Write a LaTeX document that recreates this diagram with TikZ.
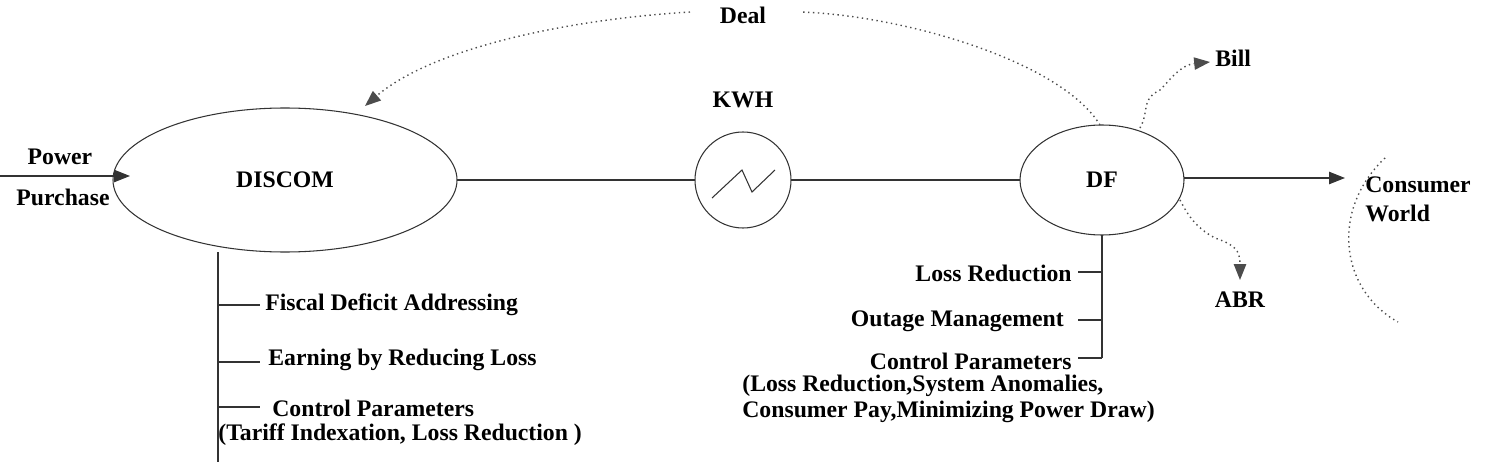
\documentclass[tikz,border=0pt]{standalone}
\usepackage{fontspec}
\setmainfont{Liberation Serif}
\usetikzlibrary{arrows.meta}
\begin{document}
\begin{tikzpicture}[x=0.02cm,y=-0.02cm,
  lbl/.style={font=\bfseries\fontsize{13.5}{16}\selectfont,inner sep=0pt},
  ln/.style={draw=black!80,line width=0.6pt},
  dot/.style={draw=black!70,dotted,line width=0.8pt},
  tip/.style={-{Triangle[length=9pt,width=7pt]}}]
\useasboundingbox (0,0) rectangle (1488,466);
\draw[ln] (285,180) ellipse [x radius=172,y radius=72];
\node[lbl] (discom) at (285,180) {DISCOM};
\draw[ln] (743,180) circle [radius=48];
\draw[ln] (712,198)--(742,170)--(752,192)--(775,170);
\node[lbl] (kwh) at (743,100) {KWH};
\draw[ln] (1102,180) ellipse [x radius=82,y radius=55];
\node[lbl] (df) at (1102,180) {DF};
\coordinate (d1) at (457,180); \coordinate (m1) at (695,180);
\coordinate (m2) at (791,180); \coordinate (f1) at (1020,180);
\draw[ln] (d1)--(m1); \draw[ln] (m2)--(f1);
\node[lbl] (pw) at (60,157) {Power};
\node[lbl] (pp) at (63,197) {Purchase};
\coordinate (s0) at (0,176); \coordinate (s1) at (130,176);
\draw[ln,tip] (s0)--(s1);
\coordinate (f2) at (1184,178); \coordinate (c1) at (1345,178);
\draw[ln,tip] (f2)--(c1);
\node[lbl,anchor=west] (cons) at (1365,185) {Consumer};
\node[lbl,anchor=west] (world) at (1365,213) {World};
\draw[dot] (1385,158) .. controls (1330,210) and (1340,290) .. (1398,322);
\node[lbl] (deal) at (743,15) {Deal};
\coordinate (dt) at (1100,125); \coordinate (dl) at (365,106);
\draw[dot] (dt) .. controls (1060,60) and (900,15) .. (800,12);
\draw[dot,tip] (690,12) .. controls (560,20) and (430,50) .. (dl);
\node[lbl,anchor=west] (bill) at (1215,58) {Bill};
\draw[dot,tip] (1140,128) .. controls (1150,110) and (1140,100) .. (1160,90) .. controls (1170,80) and (1180,65) .. (1210,62);
\node[lbl] (abr) at (1240,300) {ABR};
\draw[dot,tip] (1180,200) .. controls (1190,220) and (1200,230) .. (1215,238) .. controls (1235,245) and (1240,250) .. (1240,280);
% DISCOM tree
\coordinate (v0) at (218,252); \coordinate (v1) at (218,462);
\draw[ln] (v0)--(v1);
\foreach \y in {305,362,407} \draw[ln] (218,\y)--(260,\y);
\node[lbl,anchor=west] (t1) at (265,305) {Fiscal Deficit Addressing};
\node[lbl,anchor=west] (t2) at (268,360) {Earning by Reducing Loss};
\node[lbl,anchor=west] (t3) at (272,408) {Control Parameters};
\node[lbl,anchor=west] (t4) at (218,435) {(Tariff Indexation, Loss Reduction )};
% DF tree
\coordinate (w0) at (1102,235); \coordinate (w1) at (1102,358);
\draw[ln] (w0)--(w1);
\foreach \y in {272,320,358} \draw[ln] (1078,\y)--(1102,\y);
\node[lbl,anchor=east] (u1) at (1072,273) {Loss Reduction};
\node[lbl,anchor=east] (u2) at (1064,321) {Outage Management};
\node[lbl,anchor=east] (u3) at (1072,361) {Control Parameters};
\node[lbl,anchor=west] (u4) at (742,386) {(Loss Reduction,System Anomalies,};
\node[lbl,anchor=west] (u5) at (742,412) {Consumer Pay,Minimizing Power Draw)};
\end{tikzpicture}
\end{document}
